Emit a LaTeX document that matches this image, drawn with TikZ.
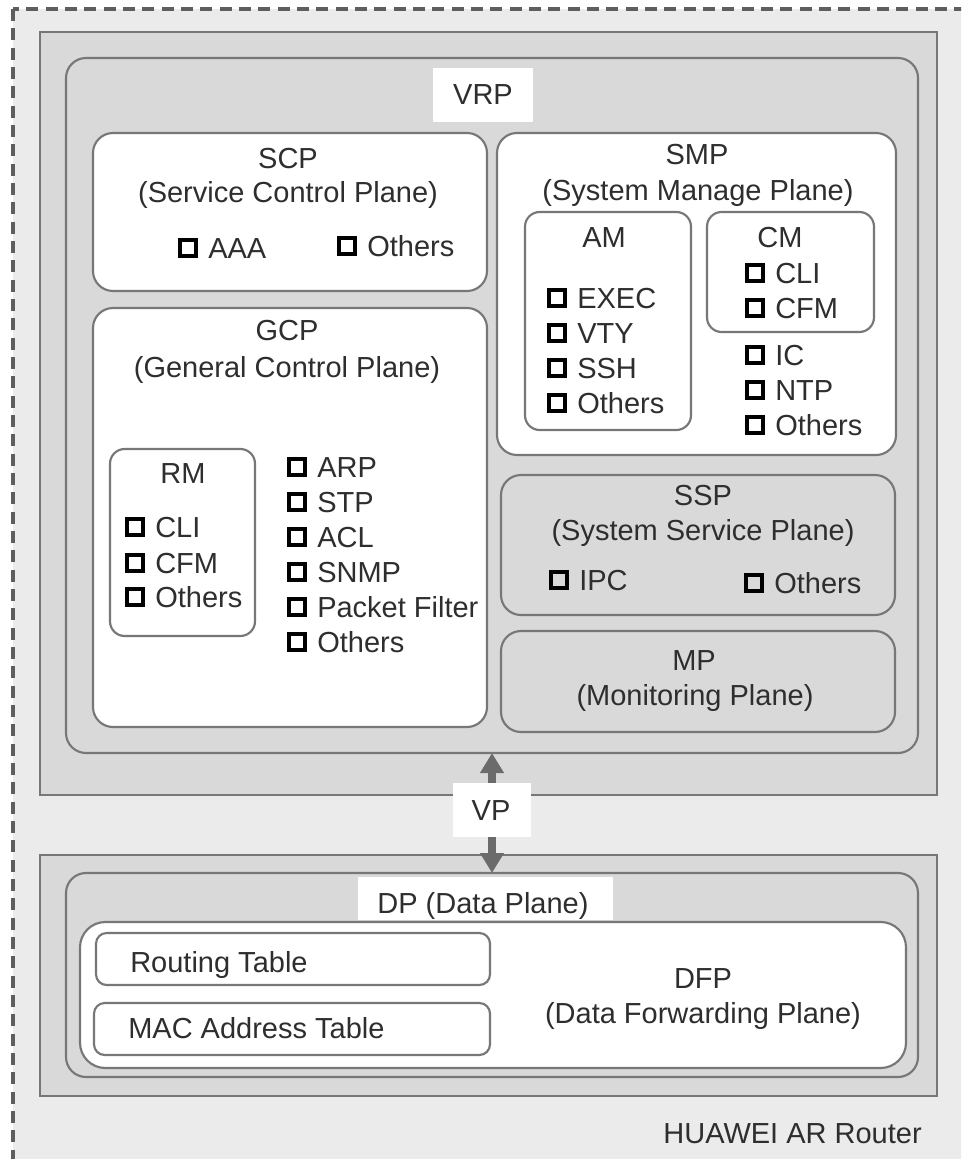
\documentclass[tikz,border=0pt]{standalone}
\usepackage{fontspec}
\setmainfont{Liberation Sans}
\usetikzlibrary{fit,arrows.meta}
\definecolor{bgc}{HTML}{EBEBEB}
\definecolor{boxc}{HTML}{D9D9D9}
\definecolor{linec}{HTML}{777777}
\definecolor{txtc}{HTML}{2E2E2E}
\definecolor{arrc}{HTML}{6B6B6B}
\definecolor{dashc}{HTML}{5E5E5E}
\newcommand\mk{\raisebox{3pt}{\color{black}\setlength\fboxsep{0pt}\setlength\fboxrule{3pt}\fbox{\rule{0pt}{9pt}\hspace{9pt}}}\hspace{7.5pt}}
\tikzset{
  sqbox/.style={draw=linec, line width=2.2pt, fill=boxc, inner sep=0pt, outer sep=0pt},
  grayround/.style={draw=linec, line width=1.6pt, fill=boxc, rounded corners=15pt, inner sep=0pt, outer sep=0pt},
  whiteround/.style={draw=linec, line width=1.6pt, fill=white, rounded corners=15pt, inner sep=0pt, outer sep=0pt},
  smallround/.style={whiteround, rounded corners=11pt},
  tinyround/.style={whiteround, rounded corners=8pt},
  dfpround/.style={whiteround, rounded corners=19pt},
  labelbox/.style={fill=white, inner sep=0pt, outer sep=0pt},
  txt/.style={text=txtc, inner sep=0pt, anchor=base, font=\fontsize{21.75pt}{26pt}\selectfont},
  item/.style={txt, anchor=base west},
  txtr/.style={txt, anchor=base east},
  biarrow/.style={draw=arrc, line width=6pt, {Triangle[length=15pt,width=17pt]}-{Triangle[length=15pt,width=17pt]}},
}
\begin{document}
\begin{tikzpicture}[x=0.75pt, y=-0.75pt]
\useasboundingbox (0,0) rectangle (961,1159);
\fill[white] (0,0) rectangle (961,1159);
\begin{scope}
\clip (0,0) rectangle (961,1159);
\draw[draw=dashc, fill=bgc, line width=2.4pt, dash pattern=on 9pt off 5.5pt] (13,9) rectangle (1000,1200);
\end{scope}
% upper part
\node[sqbox, fit={(40,32) (937,795)}] (vrpsq) {};
\node[grayround, fit={(66,58) (918,753)}] (vrp) {};
\node[labelbox, fit={(433,68) (533,122)}] (vrplab) {};
\node[whiteround, fit={(93,133) (487,291)}] (scp) {};
\node[whiteround, fit={(93,308) (487,727)}] (gcp) {};
\node[smallround, fit={(110,449) (255,636)}] (rm) {};
\node[whiteround, fit={(497,133) (896,455)}] (smp) {};
\node[smallround, fit={(525,212) (691,430)}] (am) {};
\node[smallround, fit={(707,212) (874,332)}] (cm) {};
\node[grayround, fit={(501,475) (895,615)}] (ssp) {};
\node[grayround, fit={(501,631) (895,732)}] (mp) {};
% lower part
\node[sqbox, fit={(40,855) (937,1096)}] (dpsq) {};
\node[grayround, fit={(66,873) (918,1077)}] (dp) {};
\node[labelbox, fit={(358,877) (613,920)}] (dplab) {};
\node[dfpround, fit={(80,922) (906,1068)}] (dfp) {};
\node[tinyround, fit={(96,933) (490,985)}] (rt) {};
\node[tinyround, fit={(94,1003) (490,1055)}] (mac) {};
% connector
\draw[biarrow] (vrp.south) -- (dp.north);
\node[labelbox, fit={(453,783) (531,837)}] (vplab) {};
% titles
\node[txt] (tvrp) at (483,105) {VRP};
\node[txt] (tscp1) at (288,168) {SCP};
\node[txt] (tscp2) at (288,202) {(Service Control Plane)};
\node[txt] (tgcp1) at (287,340) {GCP};
\node[txt] (tgcp2) at (287,377) {(General Control Plane)};
\node[txt] (tsmp1) at (697,165) {SMP};
\node[txt] (tsmp2) at (698,200) {(System Manage Plane)};
\node[txt] (tam) at (604,247) {AM};
\node[txt] (tcm) at (780,247) {CM};
\node[txt] (trm) at (183,483) {RM};
\node[txt] (tssp1) at (703,505) {SSP};
\node[txt] (tssp2) at (703,540) {(System Service Plane)};
\node[txt] (tmp1) at (694,670) {MP};
\node[txt] (tmp2) at (695,705) {(Monitoring Plane)};
\node[txt] (tvp) at (491,820) {VP};
\node[txt] (tdp) at (483,913) {DP (Data Plane)};
\node[item] (trt) at (130,972) {Routing Table};
\node[item] (tmac) at (128,1038) {MAC Address Table};
\node[txt] (tdfp1) at (703,988) {DFP};
\node[txt] (tdfp2) at (703,1023) {(Data Forwarding Plane)};
\node[txtr] (thw) at (922,1143) {HUAWEI AR Router};
% items
\node[item] (iaaa) at (178,258) {\mk AAA};
\node[item] (iscpo) at (337,256) {\mk Others};
\node[item] (iexec) at (547,308) {\mk EXEC};
\node[item] (ivty) at (547,343) {\mk VTY};
\node[item] (issh) at (547,378) {\mk SSH};
\node[item] (iamo) at (547,413) {\mk Others};
\node[item] (icmcli) at (745,283) {\mk CLI};
\node[item] (icmcfm) at (745,318) {\mk CFM};
\node[item] (iic) at (745,365) {\mk IC};
\node[item] (intp) at (745,400) {\mk NTP};
\node[item] (ismpo) at (745,435) {\mk Others};
\node[item] (irmcli) at (125,537) {\mk CLI};
\node[item] (irmcfm) at (125,573) {\mk CFM};
\node[item] (irmo) at (125,607) {\mk Others};
\node[item] (iarp) at (287,477) {\mk ARP};
\node[item] (istp) at (287,512) {\mk STP};
\node[item] (iacl) at (287,547) {\mk ACL};
\node[item] (isnmp) at (287,582) {\mk SNMP};
\node[item] (ipf) at (287,617) {\mk Packet Filter};
\node[item] (igcpo) at (287,652) {\mk Others};
\node[item] (iipc) at (549,590) {\mk IPC};
\node[item] (isspo) at (744,593) {\mk Others};
\end{tikzpicture}
\end{document}
